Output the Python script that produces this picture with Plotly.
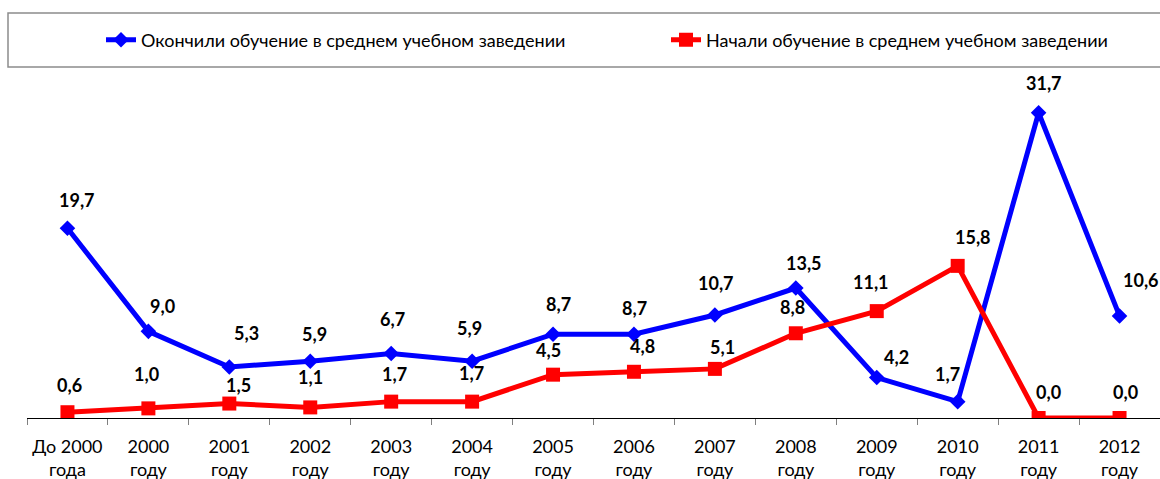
import plotly.graph_objects as go

categories = ["До 2000<br>года", "2000<br>году", "2001<br>году", "2002<br>году", "2003<br>году",
              "2004<br>году", "2005<br>году", "2006<br>году", "2007<br>году", "2008<br>году",
              "2009<br>году", "2010<br>году", "2011<br>году", "2012<br>году"]
finished = [19.7, 9.0, 5.3, 5.9, 6.7, 5.9, 8.7, 8.7, 10.7, 13.5, 4.2, 1.7, 31.7, 10.6]
started = [0.6, 1.0, 1.5, 1.1, 1.7, 1.7, 4.5, 4.8, 5.1, 8.8, 11.1, 15.8, 0.0, 0.0]
name_finished = "Окончили обучение в среднем учебном заведении"
name_started = "Начали обучение в среднем учебном заведении"

# label nudges (screen px: dx right, dy down) relative to each point
finished_label_offsets = [(10, -28), (14, -25), (17, -34), (4, -27), (1, -34), (-3, -33), (5, -30),
                          (1, -26), (1, -32), (8, -25), (20, -21), (-10, -28), (5, -30), (21, -36)]
started_label_offsets = [(2, -27), (-2, -34), (9, -19), (0, -30), (3, -28), (-1, -29), (-5, -25),
                         (9, -26), (8, -22), (-3, -26), (-6, -29), (15, -29), (10, -26), (6, -26)]

BLUE = "#0000FF"
RED = "#FF0000"
FONT = "Lato"

fig = go.Figure()
fig.add_trace(go.Scatter(
    x=categories, y=finished, name=name_finished, mode="lines+markers",
    line=dict(color=BLUE, width=5),
    marker=dict(symbol="diamond", size=12, color=BLUE),
))
fig.add_trace(go.Scatter(
    x=categories, y=started, name=name_started, mode="lines+markers",
    line=dict(color=RED, width=5),
    marker=dict(symbol="square", size=14, color=RED),
))

def fmt(v):
    return f"{v:.1f}".replace(".", ",")

annotations = []
for vals, offs in ((finished, finished_label_offsets), (started, started_label_offsets)):
    for c, v, (dx, dy) in zip(categories, vals, offs):
        annotations.append(dict(
            x=c, y=v, xref="x", yref="y", text="<b>" + fmt(v) + "</b>",
            showarrow=False, xshift=dx, yshift=-dy,
            xanchor="center", yanchor="middle",
            font=dict(family=FONT, size=18, color="black"),
        ))

fig.update_layout(
    width=1160, height=479,
    margin=dict(l=27, r=0, t=81, b=61, autoexpand=False),
    paper_bgcolor="white", plot_bgcolor="white",
    font=dict(family=FONT, color="black"),
    showlegend=True,
    legend=dict(
        orientation="h", x=(101 - 27) / 1133, xanchor="left",
        y=(418 - 40) / 337, yanchor="middle",
        entrywidth=520, entrywidthmode="pixels",
        font=dict(family=FONT, size=18, color="black"),
        bgcolor="rgba(0,0,0,0)", borderwidth=0,
    ),
    annotations=annotations,
    shapes=[dict(
        type="rect", xref="paper", yref="paper",
        x0=(8 - 27) / 1133, x1=(1170 - 27) / 1133,
        y0=(418 - 67) / 337, y1=(418 - 13) / 337,
        line=dict(color="#8c8c8c", width=1.5), fillcolor="rgba(0,0,0,0)",
    )],
    xaxis=dict(
        type="category", range=[-0.5, len(categories) - 0.5],
        showline=True, linecolor="black", linewidth=1,
        showgrid=False, zeroline=False, automargin=False, tickangle=0,
        ticks="outside", tickson="boundaries", ticklen=6, tickcolor="#808080",
        ticklabelstandoff=12,
        tickfont=dict(family=FONT, size=18, color="black"),
    ),
    yaxis=dict(
        range=[0, 35], visible=False, showgrid=False, zeroline=False, automargin=False,
    ),
)

fig.write_html("out.html", config={"displayModeBar": False},
               post_script="document.body.style.margin='0';")
